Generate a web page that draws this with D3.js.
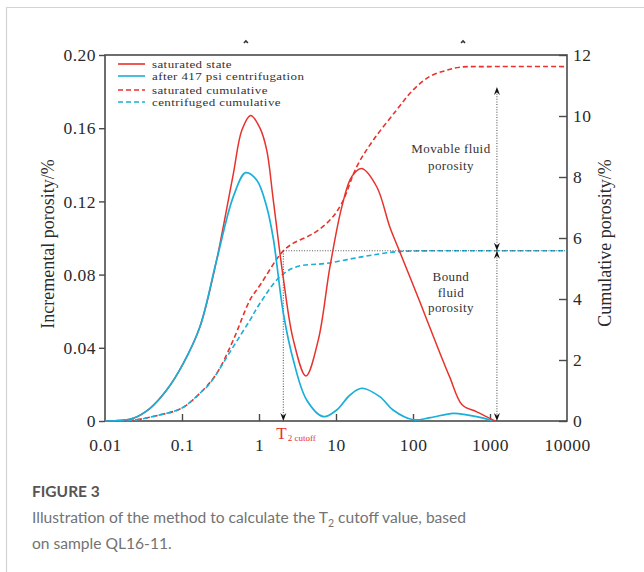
<!DOCTYPE html>
<html>
<head>
<meta charset="utf-8">
<script src="https://cdn.jsdelivr.net/npm/d3@7/dist/d3.min.js"></script>
<style>
  html, body { margin: 0; padding: 0; background: #fff; }
  svg { display: block; }
  .serif { font-family: "Liberation Serif", "Times New Roman", serif; }
  .cap { font-family: Lato, "Open Sans", sans-serif; }
</style>
</head>
<body>
<svg id="fig" width="644" height="572"></svg>
<script>
// T2 relaxation time (ms) and incremental porosity (%) — saturated state
const satT = [0.01, 0.0233, 0.0384, 0.0632, 0.104, 0.171, 0.282, 0.343, 0.464, 0.6, 0.78, 1.03, 1.26, 1.53, 2.07, 2.79, 4.07, 5.89, 8.35, 11.9, 16.0, 21.6, 33.8, 50, 68, 123, 166, 224, 300, 437, 673, 1160];
const satV = [0, 0.0015, 0.0069, 0.0169, 0.0315, 0.0515, 0.088, 0.106, 0.135, 0.159, 0.167, 0.160, 0.148, 0.121, 0.078, 0.0443, 0.0246, 0.0443, 0.0843, 0.117, 0.1335, 0.138, 0.128, 0.106, 0.092, 0.065, 0.051, 0.037, 0.024, 0.0087, 0.005, 0];

// after 417 psi centrifugation
const cenT = [0.01, 0.0233, 0.0384, 0.0632, 0.104, 0.171, 0.282, 0.464, 0.671, 0.933, 1.26, 1.53, 2.07, 2.79, 4.16, 6.84, 10.2, 15.2, 21.6, 37, 55, 100, 166, 334, 498, 1000, 1070];
const cenV = [0, 0.0015, 0.0069, 0.0169, 0.0315, 0.0515, 0.088, 0.1226, 0.1357, 0.1317, 0.117, 0.100, 0.059, 0.0333, 0.0115, 0.0024, 0.006, 0.0142, 0.0179, 0.0133, 0.006, 0.0007, 0.0018, 0.0042, 0.0033, 0.0005, 0];

// cumulative porosity (%) — saturated
const satCumT = [0.01, 0.0233, 0.0518, 0.099, 0.171, 0.282, 0.464, 0.764, 1.03, 1.69, 2.07, 2.79, 5.07, 8.36, 11.9, 18.6, 30.5, 61.4, 100, 166, 274, 407, 1000, 10000];
const satCumV = [0, 0.03, 0.2, 0.42, 0.91, 1.56, 2.66, 3.97, 4.45, 5.3, 5.58, 5.83, 6.15, 6.59, 7.14, 8.34, 9.21, 10.2, 10.85, 11.3, 11.5, 11.6, 11.62, 11.62];

// cumulative porosity (%) — centrifuged
const cenCumT = [0.01, 0.0233, 0.0518, 0.099, 0.171, 0.231, 0.464, 0.764, 1.03, 1.87, 3.09, 7.6, 22.6, 61.4, 166, 1000, 10000];
const cenCumV = [0, 0.03, 0.2, 0.42, 0.91, 1.24, 2.44, 3.31, 3.86, 4.73, 5.06, 5.17, 5.39, 5.55, 5.58, 5.58, 5.58];

// axis ticks
const xTicks = [0.01, 0.1, 1, 10, 100, 1000, 10000];
const xTickLabels = ["0.01", "0.1", "1", "10", "100", "1000", "10000"];
const yLeftTicks = [0, 0.04, 0.08, 0.12, 0.16, 0.20];
const yLeftLabels = ["0", "0.04", "0.08", "0.12", "0.16", "0.20"];
const yRightTicks = [0, 2, 4, 6, 8, 10, 12];

// cutoff construction
const t2Cutoff = 2.07;          // ms, where saturated cumulative reaches bound porosity
const boundPorosity = 5.58;     // %, centrifuged cumulative plateau
const fluidMarkerT = 1230;      // ms, position of the porosity arrows
const movableTop = 10.95;       // %, upper arrow tip

const legendItems = [
  { label: "saturated state", color: "#e8322c", dash: null },
  { label: "after 417 psi centrifugation", color: "#19afd8", dash: null },
  { label: "saturated cumulative", color: "#e8322c", dash: "5,3" },
  { label: "centrifuged cumulative", color: "#19afd8", dash: "5,3" }
];

const RED = "#e8322c", BLUE = "#19afd8", AXIS = "#4a4a4a", INK = "#2a2a2a";

const svg = d3.select("#fig");

// card outline
svg.append("line").attr("x1", 6).attr("x2", 644).attr("y1", 7.5).attr("y2", 7.5)
  .attr("stroke", "#d4d4d4").attr("stroke-width", 1.2);
svg.append("line").attr("x1", 6.5).attr("x2", 6.5).attr("y1", 7).attr("y2", 572)
  .attr("stroke", "#d4d4d4").attr("stroke-width", 1.2);

const L = 105, R = 567, T = 55, B = 421;
const x = d3.scaleLog().domain([0.01, 10000]).range([L, R]);
const yL = d3.scaleLinear().domain([0, 0.2]).range([B, T]);
const yR = d3.scaleLinear().domain([0, 12]).range([B, T]);

const g = svg.append("g");

// frame
g.append("rect").attr("x", L).attr("y", T).attr("width", R - L).attr("height", B - T)
  .attr("fill", "none").attr("stroke", AXIS).attr("stroke-width", 1.6);

// two small marks above the frame
[0.305, 0.775].forEach(f => {
  const cx = L + f * (R - L);
  g.append("path").attr("d", `M${cx - 2},${T - 12} L${cx},${T - 14} L${cx + 2},${T - 12}`)
    .attr("fill", "none").attr("stroke", "#333").attr("stroke-width", 1.6);
});

// axes
const axFont = "Liberation Serif, Times New Roman, serif";
function styleAxis(sel) {
  sel.select(".domain").remove();
  sel.selectAll(".tick line").attr("stroke", AXIS).attr("stroke-width", 1.4);
  sel.selectAll(".tick text").attr("fill", INK).style("font-family", axFont)
    .style("font-size", "17.5px").style("letter-spacing", "0.5px");
}

const xAxis = g.append("g").attr("transform", `translate(0,${B})`)
  .call(d3.axisBottom(x).tickValues(xTicks).tickSize(-7).tickPadding(18)
    .tickFormat((d, i) => xTickLabels[i]));
styleAxis(xAxis);
xAxis.selectAll(".tick line").filter(d => d === 0.01 || d === 10000).remove();

const yAxisL = g.append("g").attr("transform", `translate(${L},0)`)
  .call(d3.axisLeft(yL).tickValues(yLeftTicks).tickSize(6).tickPadding(3)
    .tickFormat((d, i) => yLeftLabels[i]));
styleAxis(yAxisL);

const yAxisR = g.append("g").attr("transform", `translate(${R},0)`)
  .call(d3.axisRight(yR).tickValues(yRightTicks).tickSize(-8).tickPadding(6)
    .tickFormat(d3.format("d")));
styleAxis(yAxisR);

// axis titles
g.append("text").attr("class", "serif")
  .attr("transform", `translate(54,${(T + B) / 2 + 6}) rotate(-90)`)
  .attr("text-anchor", "middle").attr("fill", INK)
  .style("font-size", "18px").text("Incremental porosity/%");
g.append("text").attr("class", "serif")
  .attr("transform", `translate(611,${(T + B) / 2 + 5}) rotate(-90)`)
  .attr("text-anchor", "middle").attr("fill", INK)
  .style("font-size", "18px").text("Cumulative porosity/%");

// curves
const smooth = d3.curveCatmullRom.alpha(0.5);
const lineL = d3.line().x(d => x(d[0])).y(d => Math.min(B, yL(d[1]))).curve(smooth);
const lineR = d3.line().x(d => x(d[0])).y(d => yR(d[1])).curve(smooth);

const zip = (a, b) => a.map((v, i) => [v, b[i]]);

g.append("path").datum(zip(satCumT, satCumV)).attr("d", lineR)
  .attr("fill", "none").attr("stroke", RED).attr("stroke-width", 1.6).attr("stroke-dasharray", "5,3");
g.append("path").datum(zip(cenCumT, cenCumV)).attr("d", lineR)
  .attr("fill", "none").attr("stroke", BLUE).attr("stroke-width", 1.6).attr("stroke-dasharray", "5,3")
  .attr("stroke-dashoffset", 2);

// cutoff construction: horizontal and vertical dotted guides
const dotStyle = sel => sel.attr("stroke", "#555").attr("stroke-width", 1.1).attr("stroke-dasharray", "1,1.6");
g.append("line").attr("x1", x(t2Cutoff)).attr("x2", R)
  .attr("y1", yR(boundPorosity)).attr("y2", yR(boundPorosity)).call(dotStyle);
g.append("line").attr("x1", x(t2Cutoff)).attr("x2", x(t2Cutoff))
  .attr("y1", yR(boundPorosity)).attr("y2", B - 4).call(dotStyle);

g.append("path").datum(zip(satT, satV)).attr("d", lineL)
  .attr("fill", "none").attr("stroke", RED).attr("stroke-width", 1.5);
g.append("path").datum(zip(cenT, cenV)).attr("d", lineL)
  .attr("fill", "none").attr("stroke", BLUE).attr("stroke-width", 1.7);

// porosity arrows
const xm = x(fluidMarkerT);
g.append("line").attr("x1", xm).attr("x2", xm)
  .attr("y1", yR(movableTop) + 4).attr("y2", B - 4).call(dotStyle);

function arrowHead(px, py, dir) {
  // dir = -1 points up, +1 points down; tip at (px, py)
  const len = 8, half = 3;
  g.append("path")
    .attr("d", `M${px},${py} L${px - half},${py - dir * len} L${px},${py - dir * len * 0.65} L${px + half},${py - dir * len} Z`)
    .attr("fill", "#111");
}
arrowHead(x(t2Cutoff), B, 1);
arrowHead(xm, yR(movableTop), -1);
arrowHead(xm, yR(boundPorosity), 1);
arrowHead(xm, yR(boundPorosity), -1);
arrowHead(xm, B, 1);

// annotation labels
function block(lines, cx, y0, dy) {
  const t = g.append("text").attr("class", "serif").attr("text-anchor", "middle")
    .attr("fill", "#333").style("font-size", "13px").style("letter-spacing", "0.4px");
  lines.forEach((s, i) => t.append("tspan").attr("x", cx).attr("y", y0 + i * dy).text(s));
}
block(["Movable fluid", "porosity"], x(fluidMarkerT) - 46, 153, 17);
block(["Bound", "fluid", "porosity"], x(fluidMarkerT) - 46, 281, 15.5);

// T2 cutoff label
const t2 = g.append("text").attr("class", "serif").attr("fill", RED)
  .attr("x", x(t2Cutoff) - 7).attr("y", B + 18);
t2.append("tspan").style("font-size", "17px").text("T");
t2.append("tspan").style("font-size", "9px").attr("dy", 2).attr("dx", 1).text("2 cutoff");

// legend (slightly widened serif lettering)
const lg = g.append("g");
const rowsY = [64, 76, 90, 102];
legendItems.forEach((it, i) => {
  lg.append("line").attr("x1", 118).attr("x2", 145).attr("y1", rowsY[i]).attr("y2", rowsY[i])
    .attr("stroke", it.color).attr("stroke-width", 1.6)
    .attr("stroke-dasharray", it.dash);
  lg.append("text").attr("class", "serif")
    .attr("transform", `translate(152,${rowsY[i] + 3.5}) scale(1.18,1)`)
    .attr("fill", "#333").style("font-size", "11px").style("letter-spacing", "0.35px")
    .text(it.label);
});

// caption
const cap = svg.append("g").attr("class", "cap");
cap.append("text").attr("x", 32).attr("y", 497).attr("fill", "#555")
  .style("font-size", "15.5px").style("font-weight", "700").text("FIGURE 3");
const c1 = cap.append("text").attr("x", 32).attr("y", 523).attr("fill", "#737373")
  .style("font-size", "15.6px");
c1.append("tspan").text("Illustration of the method to calculate the T");
c1.append("tspan").attr("dy", 4).style("font-size", "10.5px").text("2");
c1.append("tspan").attr("dy", -4).text(" cutoff value, based");
cap.append("text").attr("x", 32).attr("y", 549).attr("fill", "#737373")
  .style("font-size", "15.6px").text("on sample QL16-11.");
</script>
</body>
</html>
